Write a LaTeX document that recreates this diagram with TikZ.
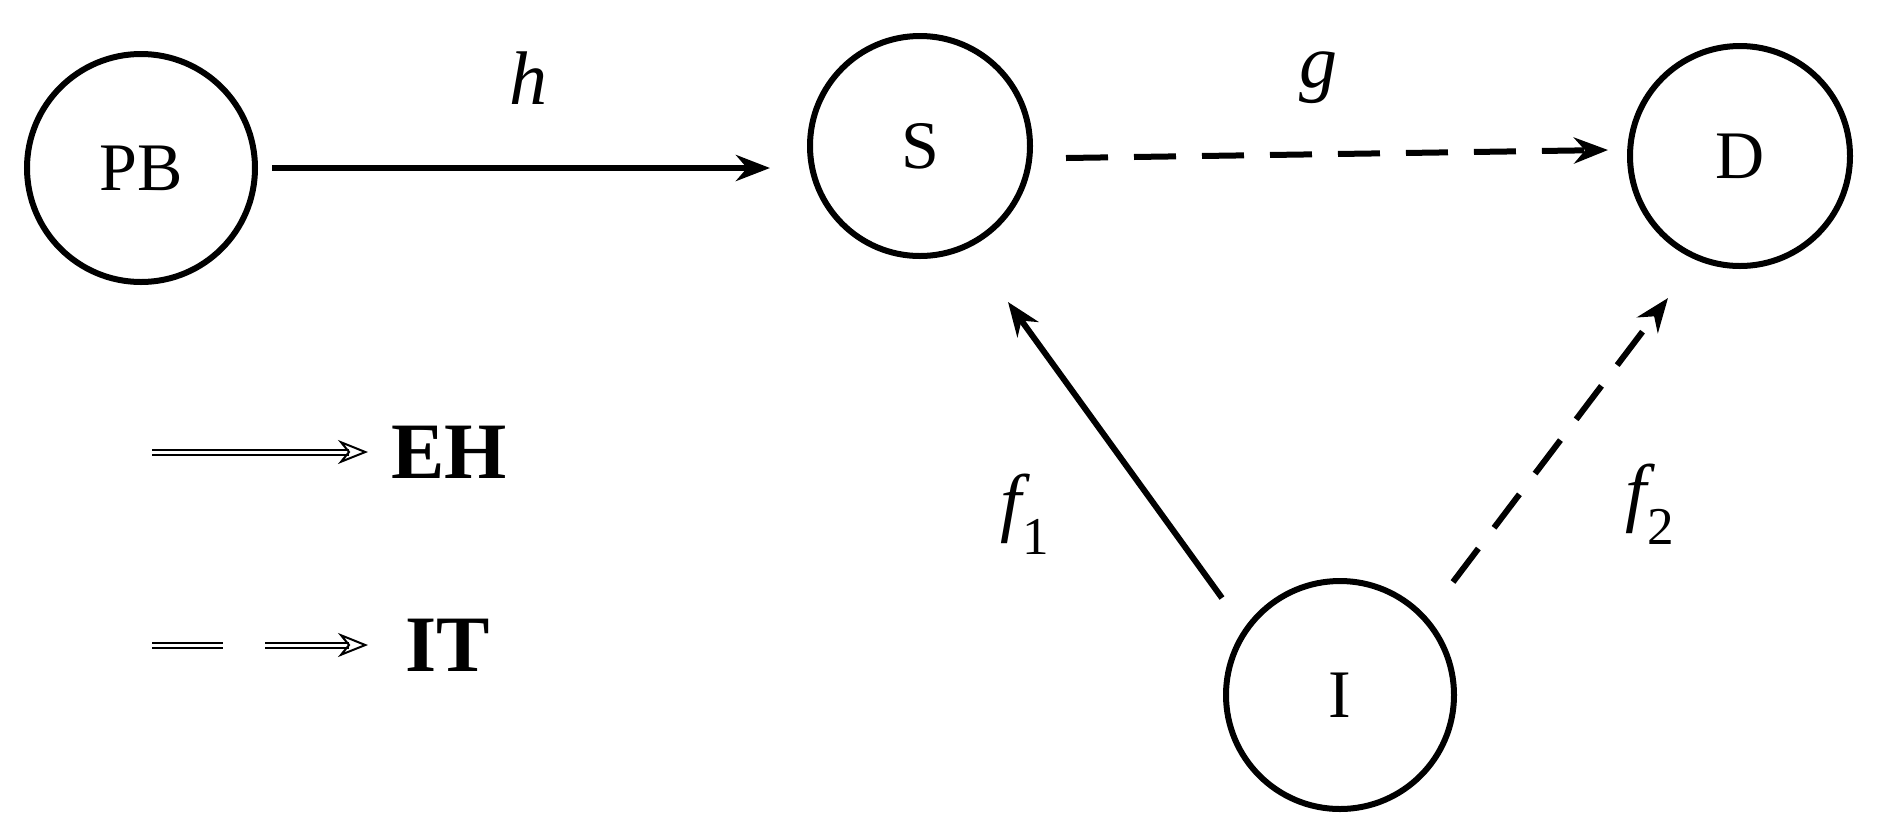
\documentclass[tikz,border=0pt]{standalone}
\usepackage{fontspec}
\setmainfont{Liberation Serif}
\usetikzlibrary{arrows.meta}
\begin{document}
\begin{tikzpicture}[x=1pt,y=-1pt,
  nd/.style={circle,draw,line width=6pt,minimum size=220pt,inner sep=0pt,font=\fontsize{68}{70}\selectfont},
  lab/.style={font=\fontsize{76}{80}\selectfont\itshape},
  leg/.style={font=\fontsize{80}{84}\selectfont\bfseries,anchor=west},
  conn/.style={line width=6pt,-{Stealth[length=34pt,width=26pt]}},
  dsh/.style={dash pattern=on 42pt off 26pt},
  legarr/.style={double,double distance=3pt,line width=2pt,-{Stealth[length=30pt,width=24pt,open]}}]
\useasboundingbox (0,0) rectangle (1879,831);
\node[nd,minimum size=228pt] (PB) at (141,168) {PB};
\node[nd] (S) at (920,146) {S};
\node[nd] (D) at (1740,156) {D};
\node[nd,minimum size=228pt] (I) at (1340,695) {I};
\coordinate (a1) at (272,168); \coordinate (a2) at (770,168);
\coordinate (b1) at (1066,158); \coordinate (b2) at (1608,150);
\coordinate (c1) at (1222,598); \coordinate (c2) at (1008,302);
\coordinate (e1) at (1453,582); \coordinate (e2) at (1668,298);
\draw[conn] (a1) -- (a2);
\draw[conn,dsh] (b1) -- (b2);
\draw[conn] (c1) -- (c2);
\draw[conn,dsh] (e1) -- (e2);
\node[lab] (h) at (528,78) {h};
\node[lab] (g) at (1318,78) {g};
\node[lab] (f1) at (1025,514) {f\textsubscript{\upshape 1}};
\node[lab] (f2) at (1650,504) {f\textsubscript{\upshape 2}};
\coordinate (l1) at (152,452); \coordinate (l2) at (368,452);
\draw[legarr] (l1) -- (l2);
\node[leg] (EH) at (388,452) {EH};
\coordinate (m1) at (152,645); \coordinate (m2) at (223,645);
\coordinate (m3) at (265,645); \coordinate (m4) at (368,645);
\draw[double,double distance=3pt,line width=2pt] (m1) -- (m2);
\draw[legarr] (m3) -- (m4);
\node[leg] (IT) at (402,645) {IT};
\end{tikzpicture}
\end{document}
